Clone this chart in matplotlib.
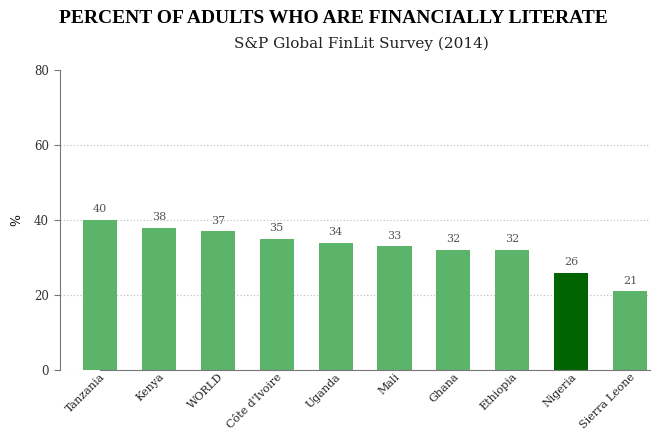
import matplotlib.pyplot as plt

countries = ["Tanzania", "Kenya", "WORLD", "Côte d'Ivoire", "Uganda", "Mali",
             "Ghana", "Ethiopia", "Nigeria", "Sierra Leone"]
literate = [40, 38, 37, 35, 34, 33, 32, 32, 26, 21]
highlight = "Nigeria"
yticks = [0, 20, 40, 60, 80]

plt.rcParams['font.family'] = ['DejaVu Serif']

fig = plt.figure(figsize=(6.52, 4.29), dpi=100)
ax = fig.add_axes([0.092, 0.137, 0.905, 0.7])

colors = ["#006400" if c == highlight else "#5cb46a" for c in countries]
x = range(len(countries))
ax.bar(x, literate, width=0.58, color=colors, zorder=2)
for i, v in zip(x, literate):
    ax.text(i, v + 1.5, str(v), ha="center", va="bottom", fontsize=8, color="#555555")

ax.set_xlim(-0.68, len(countries) - 0.66)
ax.set_ylim(0, 80)
ax.set_yticks(yticks)
ax.set_yticklabels([str(t) for t in yticks], fontsize=8.5, color="#333333")
for t in yticks[:-1]:
    ax.axhline(t, color="#bbbbbb", lw=0.8, ls=(0, (1, 2)), zorder=1)

ax.set_xticks(list(x))
ax.set_xticklabels(countries, rotation=45, ha="right", rotation_mode="anchor",
                   fontsize=8, color="#222222")
ax.tick_params(axis="x", length=0, pad=1)
ax.tick_params(axis="y", length=4, color="#777777", pad=4)

for s in ["top", "right"]:
    ax.spines[s].set_visible(False)
ax.spines["left"].set_color("#777777")
ax.spines["bottom"].set_color("#777777")
ax.spines["bottom"].set_bounds(0, len(countries) - 0.66)

ax.set_ylabel("%", fontsize=9, labelpad=8)

fig.text(0.512, 0.958, "PERCENT OF ADULTS WHO ARE FINANCIALLY LITERATE",
         ha="center", va="center", fontsize=14, fontweight="bold",
         family="Liberation Serif")
fig.text(0.555, 0.898, "S&P Global FinLit Survey (2014)", ha="center", va="center",
         fontsize=11, color="#222222")

fig.savefig("out.png", dpi=100)
